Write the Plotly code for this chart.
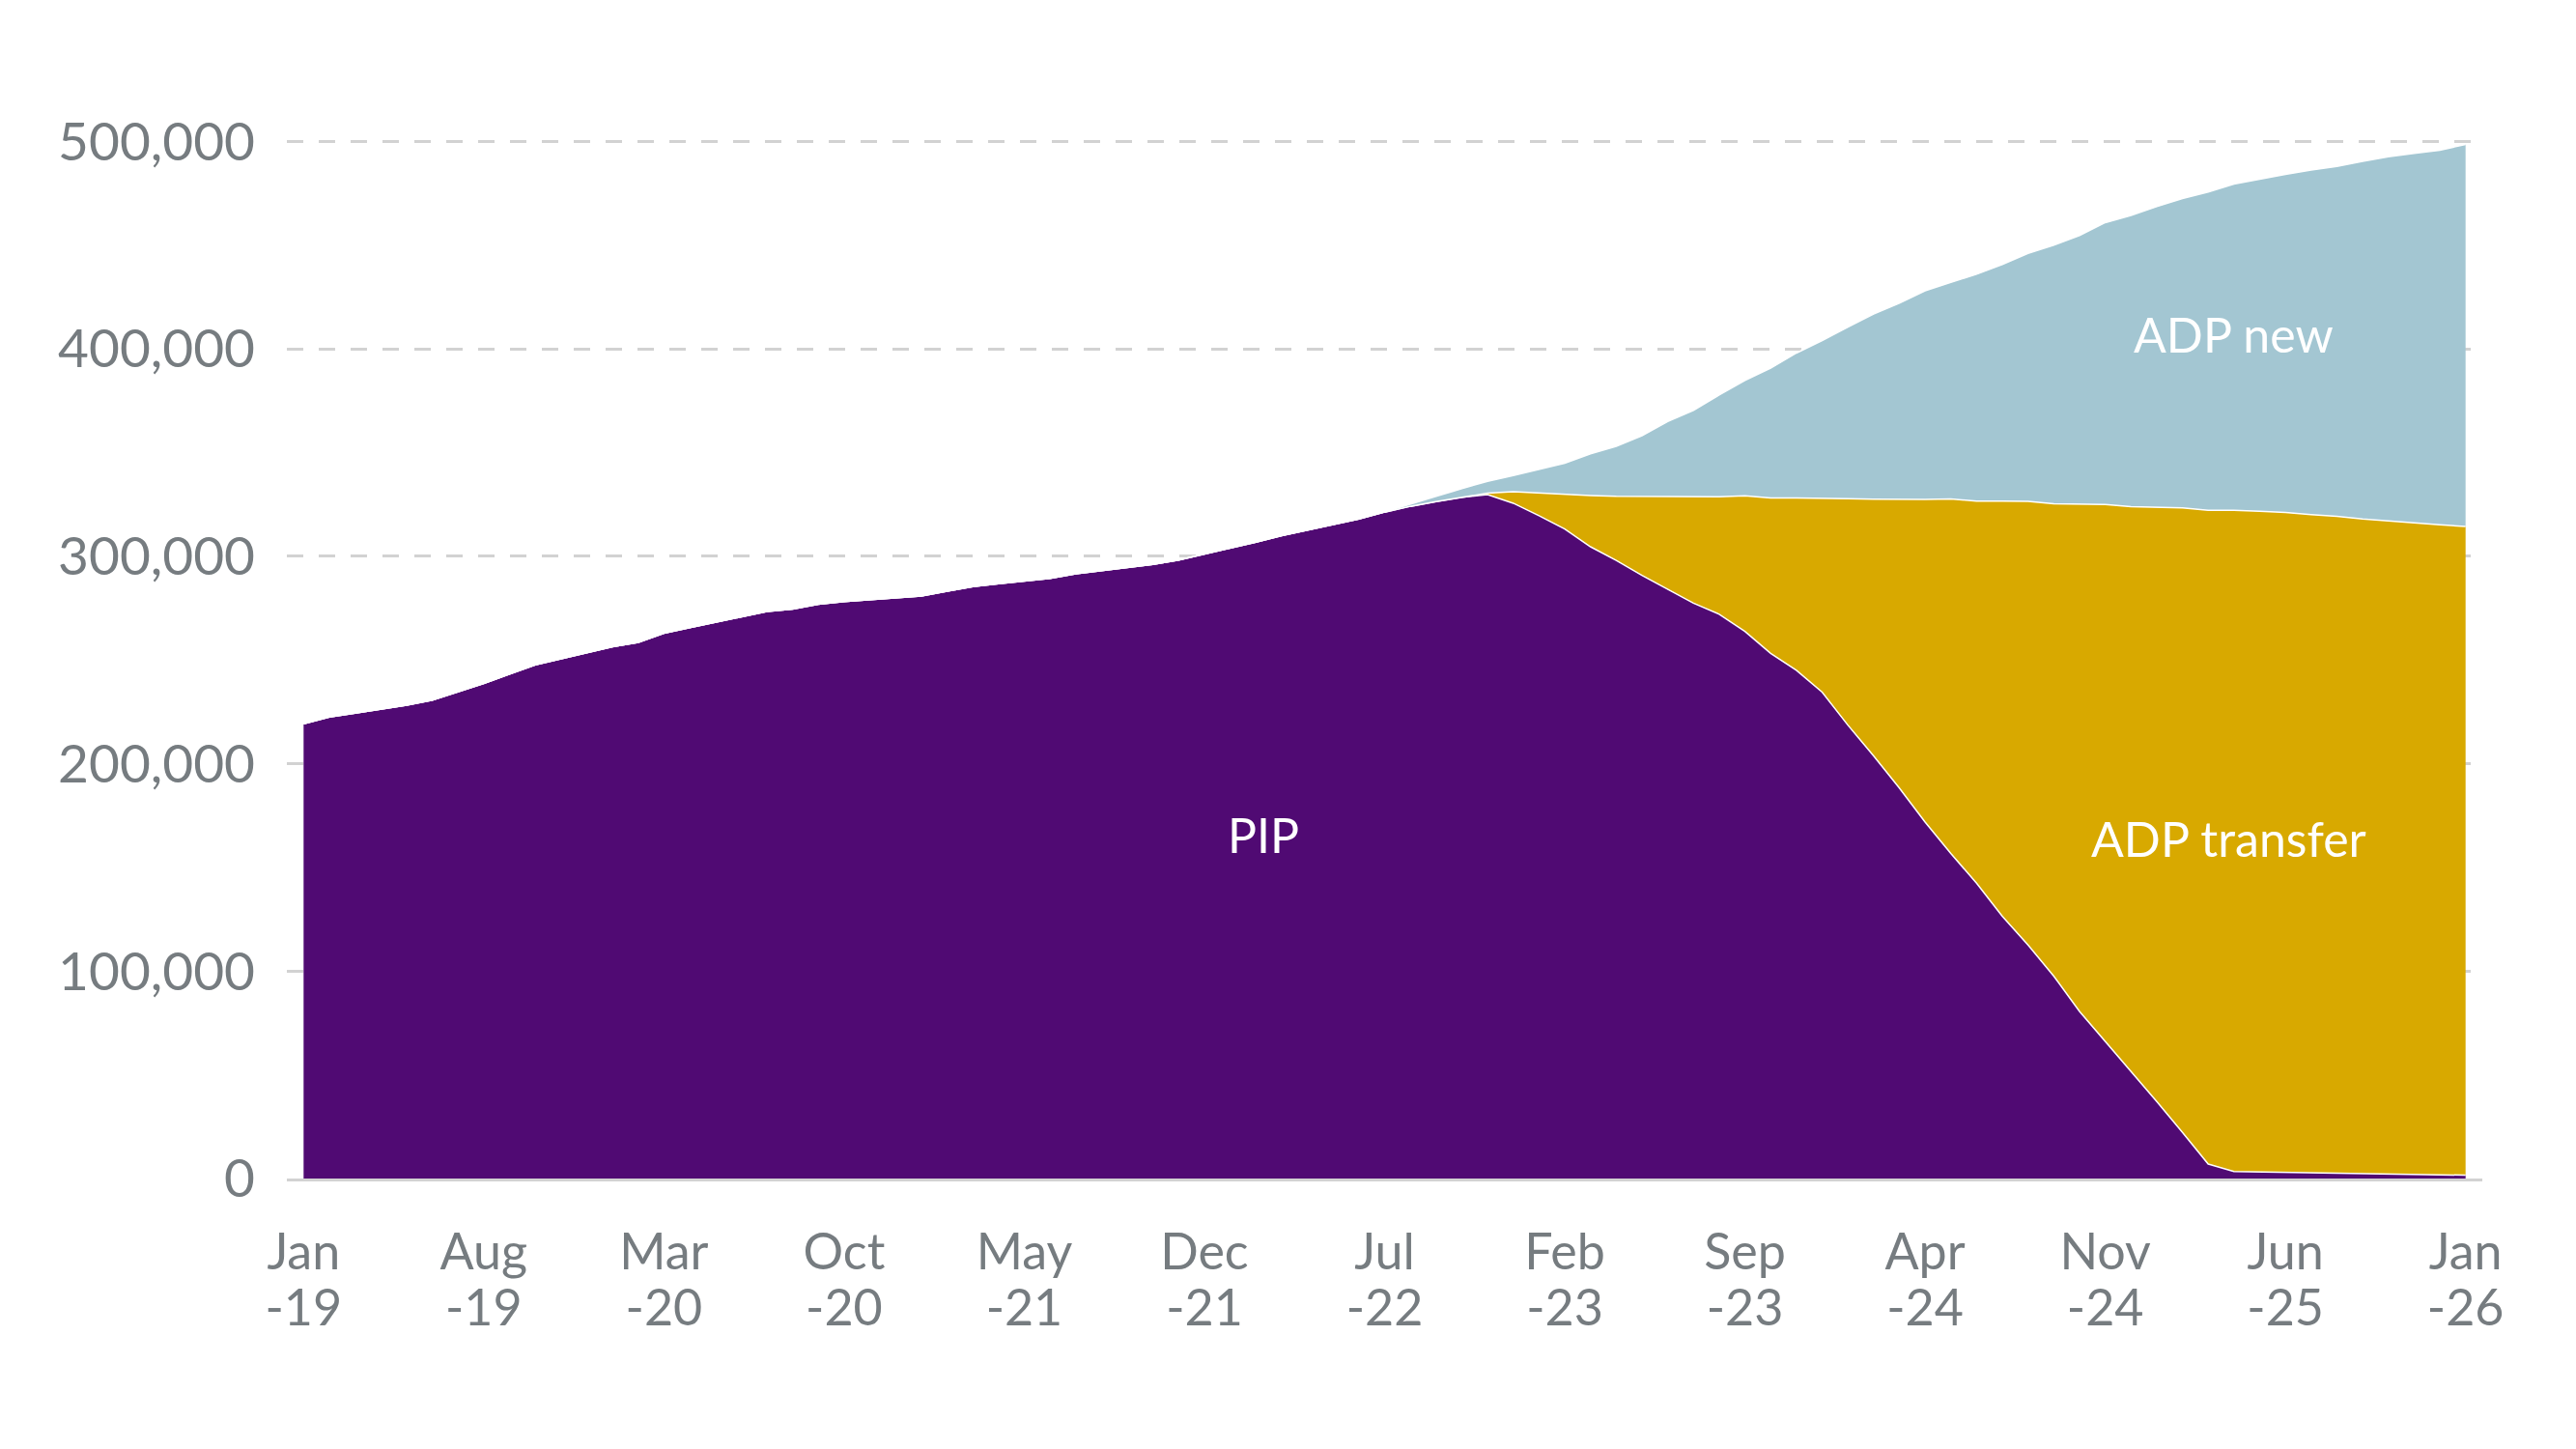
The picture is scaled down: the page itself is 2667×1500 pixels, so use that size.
import plotly.graph_objects as go

# Month index 0 = Jan-19 ... 84 = Jan-26
months = list(range(85))

pip = [219300, 222500, 224400, 226300, 228200, 230700, 234700, 238700, 243200, 247700,
       250600, 253600, 256400, 258500, 262900, 265600, 268300, 270900, 273400, 274500,
       276900, 278200, 279100, 280000, 280900, 283200, 285400, 286800, 288000, 289400,
       291500, 293000, 294500, 296100, 298200, 301000, 304000, 306800, 309900, 312600,
       315400, 318000, 321300, 324100, 326400, 328500, 329700, 325600, 319600, 313200,
       304600, 298000, 290800, 284000, 277400, 272100, 263800, 253200, 245000, 234500,
       218600, 203800, 188300, 171900, 156700, 142400, 126500, 112600, 97600, 80600,
       66100, 51900, 37100, 22200, 7000, 3400, 3200, 3000, 2900, 2700,
       2400, 2200, 2000, 1800, 1600]

adp_transfer = [0] * 46 + [
       700, 5600, 10900, 16500, 24700, 30900, 38000, 44700, 51200, 56600,
       65400, 74900, 83100, 93600, 109200, 123700, 139000, 155500, 170900, 184200,
       200100, 213900, 227700, 244500, 258900, 272000, 286600, 301200, 315200, 318800,
       318500, 318100, 317200, 316600, 315600, 314800, 314100, 313400, 312800]

adp_new = [0] * 43 + [
       1100, 2500, 4100, 5800, 7800, 11500, 15200, 20100, 24100, 29300,
       36300, 41700, 49100, 55600, 62600, 69900, 75900, 82700, 89300, 94700,
       100600, 104500, 109400, 114100, 119600, 124700, 129600, 135900, 140400, 144900,
       149100, 153400, 157300, 160100, 163100, 166100, 168700, 172400, 175700, 178200,
       180600, 184200]

tick_pos = [0, 7, 14, 21, 28, 35, 42, 49, 56, 63, 70, 77, 84]
tick_month = ["Jan", "Aug", "Mar", "Oct", "May", "Dec", "Jul", "Feb", "Sep", "Apr", "Nov", "Jun", "Jan"]
tick_year = ["-19", "-19", "-20", "-20", "-21", "-21", "-22", "-23", "-23", "-24", "-24", "-25", "-26"]
y_ticks = [0, 100000, 200000, 300000, 400000, 500000]

C_PIP = "#500A73"
C_TRANSFER = "#D8A900"
C_NEW = "#A3C6D2"
C_TEXT = "#767C80"
C_GRID = "#D2D2D2"
FONT = "Lato, 'Open Sans', sans-serif"

fig = go.Figure()
for name, vals, col in [("PIP", pip, C_PIP), ("ADP transfer", adp_transfer, C_TRANSFER),
                        ("ADP new", adp_new, C_NEW)]:
    fig.add_trace(go.Scatter(
        x=months, y=vals, name=name, mode="lines", stackgroup="one",
        line=dict(color="white", width=1.5), fillcolor=col, hoverinfo="skip"))

# invisible trace to anchor the year-label axis
fig.add_trace(go.Scatter(x=months, y=pip, mode="lines", xaxis="x2",
                         line=dict(width=0), opacity=0, showlegend=False, hoverinfo="skip"))

xr = [-0.65, 84.65]
fig.update_layout(
    width=2667, height=1500,
    margin=dict(l=297, r=97, t=125, b=280),
    paper_bgcolor="white", plot_bgcolor="white",
    showlegend=False,
    font=dict(family=FONT, color=C_TEXT),
    xaxis=dict(range=xr, tickvals=tick_pos, ticktext=tick_month, showgrid=False,
               zeroline=False, showline=True, linecolor=C_GRID, linewidth=3,
               ticks="", tickfont=dict(size=52, color=C_TEXT, family=FONT),
               ticklabelstandoff=29),
    xaxis2=dict(range=xr, overlaying="x", side="bottom", tickvals=tick_pos, ticktext=tick_year,
                showgrid=False, zeroline=False, showline=False, ticks="",
                tickfont=dict(size=52, color=C_TEXT, family=FONT),
                ticklabelstandoff=99),
    yaxis=dict(range=[0, 510000], tickvals=y_ticks, tickformat=",", showgrid=True,
               gridcolor=C_GRID, gridwidth=3, griddash="17px,16px", zeroline=False,
               ticks="", tickfont=dict(size=55, color=C_TEXT, family=FONT),
               ticklabelstandoff=32),
)

labels = [("PIP", 37.3, 166000), ("ADP transfer", 74.8, 164000), ("ADP new", 75.0, 407000)]
for txt, xv, yv in labels:
    fig.add_annotation(x=xv, y=yv, text=txt, showarrow=False,
                       font=dict(size=50, color="white", family=FONT))

fig.write_html("out.html")
